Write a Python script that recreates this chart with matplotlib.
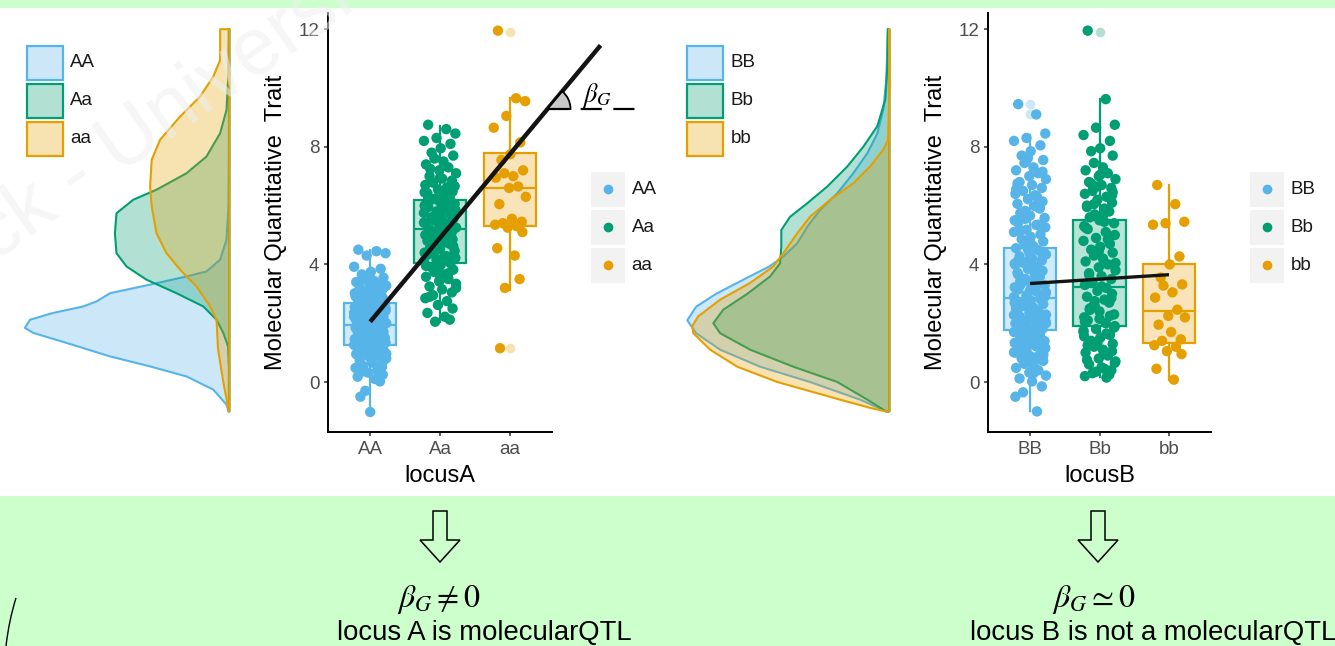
import numpy as np
import matplotlib
matplotlib.use('Agg')
import matplotlib.pyplot as plt
from matplotlib.colors import to_rgba
from matplotlib.patches import Rectangle, Polygon, Wedge, PathPatch
from matplotlib.lines import Line2D
from matplotlib.path import Path
from matplotlib.transforms import Affine2D, IdentityTransform

plt.rcParams['font.family'] = ['Liberation Sans', 'DejaVu Sans']
plt.rcParams['mathtext.fontset'] = 'stix'

W, H = 1335, 646

# ---------------- data ----------------
labels_a = ['AA', 'Aa', 'aa']
labels_b = ['BB', 'Bb', 'bb']
colors = ['#56B4E9', '#009E73', '#E69F00']

# jittered observations, locus A
trait_AA = [4.50, 4.45, 4.38, 4.30, 3.92, 3.85, 3.75, 3.66, 3.55, 3.50, 3.45, 3.40, 3.35, 3.30,
            3.28, 3.22, 3.18, 3.12, 3.05, 3.00, 2.95, 2.90, 2.86, 2.82, 2.78, 2.74, 2.70, 2.66,
            2.62, 2.58, 2.55, 2.50, 2.46, 2.42, 2.38, 2.35, 2.31, 2.28, 2.24, 2.20, 2.17, 2.13,
            2.10, 2.06, 2.03, 2.00, 1.97, 1.94, 1.91, 1.88, 1.85, 1.82, 1.78, 1.75, 1.72, 1.68,
            1.65, 1.61, 1.58, 1.54, 1.50, 1.46, 1.42, 1.38, 1.34, 1.30, 1.26, 1.22, 1.18, 1.14,
            1.10, 1.05, 1.00, 0.95, 0.90, 0.85, 0.80, 0.74, 0.68, 0.62, 0.55, 0.48, 0.40, 0.32,
            0.25, 0.18, 0.10, 0.02, -0.30, -0.50, -1.02, 3.25, 3.02, 2.84, 2.68, 2.52, 2.36, 2.22,
            2.08, 1.96, 1.84, 1.70, 1.56, 1.44, 1.32, 1.20, 1.08, 0.96, 0.82, 0.66, 0.52, 0.36,
            2.92, 2.44, 1.99, 1.62, 1.28, 0.88]
trait_Aa = [8.75, 8.60, 8.45, 8.30, 8.20, 8.10, 7.95, 7.80, 7.70, 7.60, 7.50, 7.40, 7.30, 7.20,
            7.10, 7.00, 6.92, 6.85, 6.78, 6.70, 6.62, 6.55, 6.48, 6.42, 6.36, 6.30, 6.24, 6.18,
            6.12, 6.06, 6.00, 5.95, 5.90, 5.85, 5.80, 5.75, 5.70, 5.65, 5.60, 5.55, 5.50, 5.45,
            5.40, 5.35, 5.30, 5.25, 5.20, 5.15, 5.10, 5.05, 5.00, 4.95, 4.90, 4.85, 4.80, 4.75,
            4.70, 4.64, 4.58, 4.52, 4.46, 4.40, 4.34, 4.28, 4.22, 4.16, 4.10, 4.04, 3.98, 3.90,
            3.82, 3.74, 3.66, 3.58, 3.50, 3.42, 3.34, 3.25, 3.15, 3.05, 2.95, 2.85, 2.75, 2.62,
            2.50, 2.35, 2.22, 2.12, 2.05, 7.25, 6.95, 6.66, 6.45, 6.27, 6.03, 5.82, 5.62, 5.42,
            5.22, 5.02, 4.82, 4.62, 4.42, 4.22, 3.95, 3.70, 3.45, 3.20, 2.90, 5.92, 5.32, 4.72]
trait_aa = [11.95, 9.65, 9.55, 9.05, 8.65, 8.15, 7.75, 7.55, 7.20, 7.10, 7.00, 6.95, 6.65, 6.60,
            6.30, 6.05, 5.55, 5.45, 5.40, 5.35, 5.30, 5.25, 5.10, 4.55, 4.30, 3.50, 3.20, 1.15]

# jittered observations, locus B
trait_BB = [9.45, 9.10, 8.45, 8.30, 8.20, 8.05, 7.85, 7.70, 7.55, 7.45, 7.30, 7.20, 7.10, 7.00,
            6.90, 6.80, 6.70, 6.60, 6.50, 6.40, 6.30, 6.22, 6.14, 6.06, 5.98, 5.90, 5.82, 5.74,
            5.66, 5.58, 5.50, 5.42, 5.34, 5.26, 5.18, 5.10, 5.02, 4.94, 4.86, 4.78, 4.70, 4.62,
            4.55, 4.48, 4.41, 4.34, 4.27, 4.20, 4.13, 4.06, 3.99, 3.92, 3.85, 3.78, 3.71, 3.64,
            3.57, 3.50, 3.43, 3.36, 3.29, 3.22, 3.15, 3.08, 3.01, 2.95, 2.89, 2.83, 2.77, 2.71,
            2.65, 2.59, 2.53, 2.47, 2.41, 2.35, 2.29, 2.23, 2.17, 2.11, 2.05, 1.99, 1.93, 1.87,
            1.81, 1.75, 1.69, 1.63, 1.57, 1.51, 1.45, 1.39, 1.33, 1.27, 1.21, 1.15, 1.08, 1.01,
            0.94, 0.87, 0.80, 0.72, 0.64, 0.56, 0.48, 0.40, 0.32, 0.22, 0.12, 0.02, -0.15, -0.35,
            -0.50, -1.00, 4.52, 4.30, 4.10, 3.90, 3.70, 3.50, 3.30, 3.10, 2.90, 2.70, 2.50, 2.30,
            2.10, 1.90, 1.70, 1.50, 1.30, 1.10, 0.90, 0.70, 0.55, 2.60, 2.40, 2.20, 2.00, 1.80,
            1.60, 1.40, 1.20, 1.00, 0.85, 7.62, 7.15, 6.75, 6.35, 5.95, 5.55, 5.15, 4.75, 4.38,
            4.02, 3.66, 3.32, 2.98, 2.62, 2.28, 1.94, 1.62, 1.28, 0.96, 0.62, 0.30, 6.55, 5.35,
            4.15, 3.05, 2.15, 1.35, 0.75]
trait_Bb = [11.95, 9.62, 8.75, 8.65, 8.40, 8.20, 7.95, 7.85, 7.70, 7.45, 7.30, 7.20, 7.10, 7.00,
            6.90, 6.80, 6.70, 6.60, 6.50, 6.40, 6.30, 6.20, 6.10, 6.00, 5.90, 5.80, 5.70, 5.60,
            5.50, 5.40, 5.30, 5.20, 5.10, 5.00, 4.90, 4.80, 4.70, 4.60, 4.50, 4.40, 4.30, 4.20,
            4.10, 4.00, 3.90, 3.80, 3.70, 3.60, 3.50, 3.40, 3.30, 3.20, 3.10, 3.00, 2.90, 2.80,
            2.70, 2.60, 2.50, 2.40, 2.30, 2.20, 2.10, 2.00, 1.90, 1.80, 1.70, 1.60, 1.50, 1.40,
            1.30, 1.20, 1.10, 1.00, 0.90, 0.80, 0.70, 0.60, 0.50, 0.40, 0.30, 0.20, 0.15, 6.65,
            6.35, 5.95, 5.45, 4.95, 2.75, 2.45, 2.15, 1.85, 1.55, 1.25, 0.95, 0.65, 0.35, 1.75,
            2.25, 7.05, 6.75, 6.45, 6.05, 5.65, 5.25, 4.85, 4.45, 4.05, 3.65, 3.25, 2.85, 2.55,
            2.05, 1.65, 1.35, 1.05, 0.75, 0.45, 0.25]
trait_bb = [6.70, 6.05, 5.45, 5.40, 5.35, 4.27, 4.00, 3.55, 3.32, 3.28, 3.05, 2.87, 2.46, 2.25,
            2.20, 1.95, 1.70, 1.45, 1.40, 1.25, 1.20, 1.05, 0.95, 0.45, 0.08]

# box statistics (q1, median, q3, lower whisker, upper whisker) and outliers
box_a = [(1.26, 1.95, 2.70, -1.00, 4.50), (4.06, 5.20, 6.20, 2.05, 8.70), (5.30, 6.60, 7.80, 3.14, 9.65)]
fliers_a = [[], [], [11.92, 1.15]]
box_b = [(1.77, 2.87, 4.57, -1.00, 8.40), (1.90, 3.24, 5.50, 0.18, 9.62), (1.33, 2.43, 4.03, 0.07, 6.70)]
fliers_b = [[9.10, 9.45], [11.92], []]

# fitted genotype effect lines
reg_x_a = [1.0, 4.3]
reg_y_a = [2.05, 11.45]
reg_x_b = [1.0, 3.0]
reg_y_b = [3.35, 3.65]
beta_x = 3.54

# density curves (trait value, density)
dens_y_AA = [-1.0, -0.77, -0.26, 0.19, 0.53, 0.87, 1.33, 1.67, 1.84, 2.12, 2.35, 2.57, 2.74, 3.02,
             3.19, 3.36, 3.59, 3.76, 4.16, 4.84, 6.0, 8.0, 10.0, 12.0]
dens_AA = [0.002, 0.007, 0.040, 0.107, 0.198, 0.298, 0.407, 0.490, 0.511, 0.498, 0.440, 0.365,
           0.332, 0.298, 0.240, 0.182, 0.107, 0.057, 0.023, 0.007, 0.002, 0.001, 0.001, 0.001]
dens_y_Aa = [-1.0, 0.5, 1.21, 1.67, 2.12, 2.57, 3.02, 3.48, 3.93, 4.38, 5.06, 5.74, 6.2, 6.54,
             7.1, 7.67, 8.46, 9.25, 10.5, 12.0]
dens_Aa = [0.001, 0.001, 0.003, 0.015, 0.032, 0.065, 0.132, 0.207, 0.257, 0.282, 0.286, 0.282,
           0.240, 0.182, 0.107, 0.057, 0.023, 0.007, 0.002, 0.001]
dens_y_aa = [-1.0, 0.0, 1.1, 2.12, 2.57, 3.25, 3.82, 4.38, 5.06, 5.97, 6.65, 7.56, 8.24, 9.03,
             9.71, 10.39, 10.95, 11.5, 12.0]
dens_aa = [0.001, 0.015, 0.028, 0.032, 0.048, 0.082, 0.123, 0.157, 0.182, 0.194, 0.198, 0.194,
           0.173, 0.123, 0.073, 0.040, 0.023, 0.023, 0.023]

dens_y_BB = [-1.0, -0.6, 0.0, 0.52, 1.1, 1.66, 2.1, 2.56, 3.0, 3.48, 3.93, 4.27, 4.72, 5.28,
             5.85, 6.42, 7.1, 7.78, 8.45, 9.27, 10.2, 12.0]
dens_BB = [0.008, 0.073, 0.198, 0.323, 0.423, 0.483, 0.505, 0.483, 0.433, 0.365, 0.300, 0.265,
           0.230, 0.205, 0.173, 0.130, 0.090, 0.055, 0.030, 0.015, 0.008, 0.003]
dens_y_Bb = [-1.0, -0.6, 0.0, 0.52, 1.1, 1.66, 2.0, 2.46, 3.0, 3.59, 4.04, 4.6, 5.17, 5.62,
             6.08, 6.65, 7.33, 8.0, 8.7, 9.6, 10.7, 12.0]
dens_Bb = [0.008, 0.055, 0.130, 0.240, 0.348, 0.423, 0.440, 0.415, 0.355, 0.298, 0.273, 0.270,
           0.270, 0.248, 0.205, 0.155, 0.105, 0.065, 0.030, 0.010, 0.005, 0.004]
dens_y_bb = [-1.0, -0.88, -0.6, 0.0, 0.52, 1.1, 1.66, 1.89, 2.23, 2.8, 3.37, 3.93, 4.38, 5.06,
             5.62, 6.2, 6.76, 7.33, 7.9, 8.24, 10.0, 12.0]
dens_bb = [0.008, 0.048, 0.123, 0.280, 0.380, 0.448, 0.490, 0.493, 0.478, 0.423, 0.348, 0.290,
           0.265, 0.230, 0.198, 0.148, 0.090, 0.048, 0.015, 0.003, 0.0, 0.0]

# horizontal jitter pattern for the points
JIT = np.array([-0.17, 0.09, 0.22, -0.05, -0.23, 0.15, 0.01, -0.12, 0.19, -0.08, 0.05, -0.20,
                0.12, -0.01, 0.23, -0.15, 0.03, 0.17, -0.10, -0.21, 0.10, -0.03, 0.18, -0.18,
                0.07, 0.14, -0.07, -0.14, 0.00, 0.21, -0.22])

# ---------------- figure ----------------
fig = plt.figure(figsize=(W / 100, H / 100), dpi=100, facecolor='white')
PX = Affine2D().scale(1 / W, -1 / H).translate(0, 1) + fig.transFigure

GREEN_BG = '#CCFFCC'
fig.add_artist(Rectangle((0, 0), W, 8, transform=PX, facecolor=GREEN_BG, edgecolor='none', zorder=-10))
fig.add_artist(Rectangle((0, 496), W, H - 496, transform=PX, facecolor=GREEN_BG, edgecolor='none', zorder=-10))


def px_axes(l, t, r, b):
    ax = fig.add_axes([l / W, 1 - b / H, (r - l) / W, (b - t) / H])
    ax.set_facecolor('none')
    return ax


def density_panel(ax, curves):
    for (yy, dd), c in zip(curves, colors):
        yy = np.asarray(yy)
        dd = np.asarray(dd)
        xs = np.r_[dd, 0, 0]
        ys = np.r_[yy, yy[-1], yy[0]]
        ax.fill(xs, ys, facecolor=to_rgba(c, 0.3), edgecolor=c, linewidth=1.5, joinstyle='round')
    ax.set_xlim(0.54, -0.005)
    ax.set_ylim(-1.69, 12.54)
    ax.axis('off')


def box_panel(ax, groups, stats, fliers, reg_x, reg_y, labels, xlabel, lw):
    bstats = [dict(q1=s[0], med=s[1], q3=s[2], whislo=s[3], whishi=s[4], fliers=f)
              for s, f in zip(stats, fliers)]
    bp = ax.bxp(bstats, positions=[1, 2, 3], widths=0.75, patch_artist=True,
                showcaps=False, manage_ticks=False)
    for i, c in enumerate(colors):
        bp['boxes'][i].set(facecolor=to_rgba(c, 0.28), edgecolor=c, linewidth=1.6)
        bp['medians'][i].set(color=c, linewidth=1.6)
        bp['whiskers'][2 * i].set(color=c, linewidth=1.6)
        bp['whiskers'][2 * i + 1].set(color=c, linewidth=1.6)
        bp['fliers'][i].set(marker='o', markerfacecolor=to_rgba(c, 0.3),
                            markeredgecolor='none', markersize=7)
    for i, (vals, c) in enumerate(zip(groups, colors)):
        vals = np.asarray(vals)
        x = i + 1 + np.resize(JIT, len(vals))
        ax.scatter(x, vals, s=56, color=c, edgecolors='none', zorder=3)
    ax.plot(reg_x, reg_y, color='#141414', lw=lw, zorder=4, clip_on=False,
            solid_capstyle='butt')
    ax.set_xlim(0.4, 3.6)
    ax.set_ylim(-1.69, 12.54)
    ax.set_xticks([1, 2, 3], labels)
    ax.set_yticks([0, 4, 8, 12])
    for s in ['top', 'right']:
        ax.spines[s].set_visible(False)
    for s in ['left', 'bottom']:
        ax.spines[s].set_linewidth(1.4)
        ax.spines[s].set_color('black')
    ax.tick_params(length=3, width=1.1, color='#333333', labelcolor='#4D4D4D',
                   labelsize=13.5, pad=3.5)
    ax.set_xlabel(xlabel, fontsize=17, labelpad=5)
    ax.set_ylabel('Molecular Quantitative  Trait', fontsize=17, labelpad=8)


def point_legend(x0, labels):
    for i, (lab, c) in enumerate(zip(labels, colors)):
        top = 171.7 + i * 38
        fig.add_artist(Rectangle((x0, top), 34.3, 35, transform=PX, facecolor='#F2F2F2',
                                 edgecolor='none'))
        fig.add_artist(Line2D([x0 + 17.1], [top + 17.5], transform=PX, marker='o', markersize=7,
                              markerfacecolor=c, markeredgecolor='none', linestyle='none'))
        fig.text(x0 + 41, top + 17.5, lab, transform=PX, fontsize=13.5, color='#1A1A1A',
                 ha='left', va='center')


def density_legend(x0, labels):
    for i, (lab, c) in enumerate(zip(labels, colors)):
        top = 45.7 + i * 38
        fig.add_artist(Rectangle((x0, top), 36, 34, transform=PX, facecolor=to_rgba(c, 0.3),
                                 edgecolor=c, linewidth=1.6))
        fig.text(x0 + 43, top + 17, lab, transform=PX, fontsize=13.5, color='#1A1A1A',
                 ha='left', va='center')


def hollow_arrow(cx, top):
    verts = [(cx - 7, top), (cx + 7, top), (cx + 7, top + 29), (cx + 20, top + 29),
             (cx, top + 51), (cx - 20, top + 29), (cx - 7, top + 29)]
    fig.add_artist(Polygon(verts, closed=True, transform=PX, facecolor='none',
                           edgecolor='black', linewidth=1.1))


# ----- locus A -----
ax_da = px_axes(231.3 - 0.545 * 400, 13.3, 231.3, 431.7)
density_panel(ax_da, [(dens_y_AA, dens_AA), (dens_y_Aa, dens_Aa), (dens_y_aa, dens_aa)])
ax_a = px_axes(328.3, 13.3, 551.7, 431.7)
box_panel(ax_a, [trait_AA, trait_Aa, trait_aa], box_a, fliers_a, reg_x_a, reg_y_a,
          labels_a, 'locusA', 3.2)

# ----- locus B -----
ax_db = px_axes(891.3 - 0.545 * 400, 13.3, 891.3, 431.7)
density_panel(ax_db, [(dens_y_BB, dens_BB), (dens_y_Bb, dens_Bb), (dens_y_bb, dens_bb)])
ax_b = px_axes(988.3, 13.3, 1210.7, 431.7)
box_panel(ax_b, [trait_BB, trait_Bb, trait_bb], box_b, fliers_b, reg_x_b, reg_y_b,
          labels_b, 'locusB', 2.4)

density_legend(27.3, labels_a)
density_legend(687.3, labels_b)
point_legend(590.7, labels_a)
point_legend(1250.0, labels_b)

# ----- beta angle annotation on locus A line -----
slope = (reg_y_a[1] - reg_y_a[0]) / (reg_x_a[1] - reg_x_a[0])
beta_y = reg_y_a[0] + slope * (beta_x - reg_x_a[0])
cx, cy = ax_a.transData.transform((beta_x, beta_y))
p0 = ax_a.transData.transform((reg_x_a[0], reg_y_a[0]))
p1 = ax_a.transData.transform((reg_x_a[1], reg_y_a[1]))
ang = np.degrees(np.arctan2(p1[1] - p0[1], p1[0] - p0[0]))
fig.add_artist(Wedge((cx, cy), 23, 0, ang, transform=IdentityTransform(),
                     facecolor='#C8C8C8', edgecolor='black', linewidth=1.3, zorder=5))
fig.add_artist(Line2D([cx, cx + 88], [cy, cy], transform=IdentityTransform(), color='black',
                      linewidth=1.6, dashes=(9.5, 5.2), zorder=5))
fig.text(cx + 34, cy + 7, r'$\beta_G$', transform=IdentityTransform(), fontsize=19,
         ha='left', va='baseline', zorder=6)

# ----- bottom explanation -----
hollow_arrow(440, 511)
hollow_arrow(1098, 511)
fig.text(397, 607, r'$\beta_G \neq 0$', transform=PX, fontsize=23, ha='left', va='baseline')
fig.text(1052, 607, r'$\beta_G \simeq 0$', transform=PX, fontsize=23, ha='left', va='baseline')
fig.text(337, 640, 'locus A is molecularQTL', transform=PX, fontsize=19.8, ha='left',
         va='baseline')
fig.text(970, 640, 'locus B is not a molecularQTL', transform=PX, fontsize=19.8, ha='left',
         va='baseline')

curve = Path([(16, 598), (9, 620), (6, 646)], [Path.MOVETO, Path.CURVE3, Path.CURVE3])
fig.add_artist(PathPatch(curve, transform=PX, facecolor='none', edgecolor='black', linewidth=1))

# faint watermark
fig.text(-6, 262, 'ck - Universi', transform=PX, fontsize=58, color='#EFEFEF', alpha=0.55,
         rotation=35, rotation_mode='anchor', ha='left', va='baseline', zorder=8)

fig.savefig('out.png', dpi=100)
